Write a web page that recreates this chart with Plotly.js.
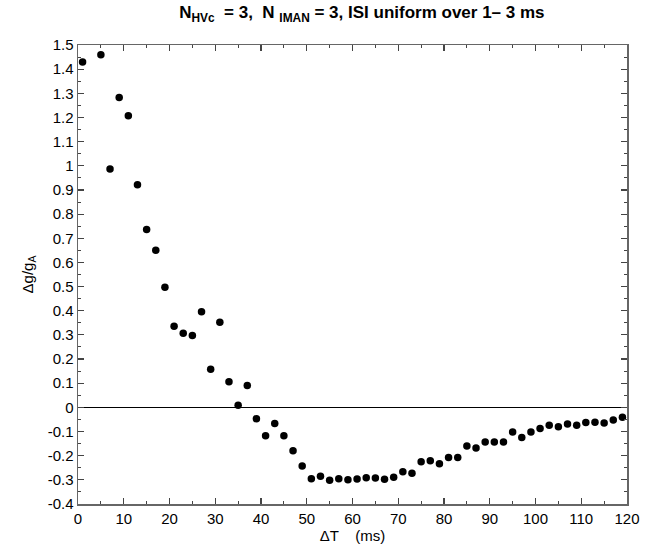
<!DOCTYPE html>
<html>
<head>
<meta charset="utf-8">
<script src="https://cdn.plot.ly/plotly-3.0.1.min.js"></script>
<style>html,body{margin:0;padding:0;background:#fff;}#chart{width:664px;height:553px;}</style>
</head>
<body>
<div id="chart"></div>
<script>
const deltaT = [1,5,7,9,11,13,15,17,19,21,23,25,27,29,31,33,35,37,39,41,43,45,47,49,51,53,55,57,59,61,63,65,67,69,71,73,75,77,79,81,83,85,87,89,91,93,95,97,99,101,103,105,107,109,111,113,115,117,119];
const dg = [1.43,1.46,0.987,1.283,1.207,0.922,0.736,0.650,0.497,0.336,0.307,0.297,0.396,0.158,0.352,0.106,0.009,0.091,-0.047,-0.117,-0.067,-0.117,-0.180,-0.243,-0.295,-0.285,-0.302,-0.295,-0.300,-0.296,-0.291,-0.292,-0.298,-0.289,-0.267,-0.273,-0.225,-0.221,-0.233,-0.208,-0.208,-0.160,-0.168,-0.143,-0.143,-0.143,-0.102,-0.125,-0.102,-0.087,-0.074,-0.080,-0.069,-0.074,-0.063,-0.062,-0.065,-0.052,-0.041];
const xTickVals = [0,10,20,30,40,50,60,70,80,90,100,110,120];
const xTickText = ["0","10","20","30","40","50","60","70","80","90","100","110","120"];
const yTickVals = [-0.4,-0.3,-0.2,-0.1,0,0.1,0.2,0.3,0.4,0.5,0.6,0.7,0.8,0.9,1,1.1,1.2,1.3,1.4,1.5];
const yTickText = ["-0.4","-0.3","-0.2","-0.1","0","0.1","0.2","0.3","0.4","0.5","0.6","0.7","0.8","0.9","1","1.1","1.2","1.3","1.4","1.5"];

const trace = {
  x: deltaT, y: dg, mode: 'markers', type: 'scatter',
  marker: {color: '#000', size: 7.5},
  cliponaxis: false, hoverinfo: 'none'
};
const axisCommon = {
  showgrid: false, showline: true, linecolor: '#666', linewidth: 1.5,
  ticks: 'inside', ticklen: 6, tickwidth: 1.2, tickcolor: '#444',
  mirror: 'ticks', tickmode: 'array',
  tickfont: {family: 'Liberation Sans, Arial, sans-serif', size: 15, color: '#000'}
};
const layout = {
  width: 664, height: 553,
  margin: {l: 78, r: 37, t: 45, b: 49},
  paper_bgcolor: '#fff', plot_bgcolor: '#fff',
  showlegend: false,
  font: {family: 'Liberation Sans, Arial, sans-serif', color: '#000'},
  title: {
    text: '<b>N<sub>HVc</sub>  = 3,  N <sub>IMAN</sub> = 3, ISI uniform over 1– 3 ms</b>',
    font: {size: 17, family: 'Liberation Sans, Arial, sans-serif', color: '#000'},
    x: 0.545, xanchor: 'center', y: 0.978, yanchor: 'middle'
  },
  xaxis: Object.assign({}, axisCommon, {
    range: [0, 120], tickvals: xTickVals, ticktext: xTickText,
    minor: {dtick: 5, tick0: 0, ticks: 'inside', ticklen: 3, tickcolor: '#444', tickwidth: 1},
    zeroline: false,
    title: {text: 'ΔT    (ms)', font: {size: 15}, standoff: 2}
  }),
  yaxis: Object.assign({}, axisCommon, {
    range: [-0.4, 1.5], tickvals: yTickVals, ticktext: yTickText,
    minor: {dtick: 0.05, tick0: 0, ticks: 'inside', ticklen: 3, tickcolor: '#444', tickwidth: 1},
    zeroline: true, zerolinecolor: '#000', zerolinewidth: 1,
    title: {text: 'Δg/g<sub>A</sub>', font: {size: 15}, standoff: 10}
  })
};
Plotly.newPlot('chart', [trace], layout, {displayModeBar: false, staticPlot: true});
</script>
</body>
</html>
